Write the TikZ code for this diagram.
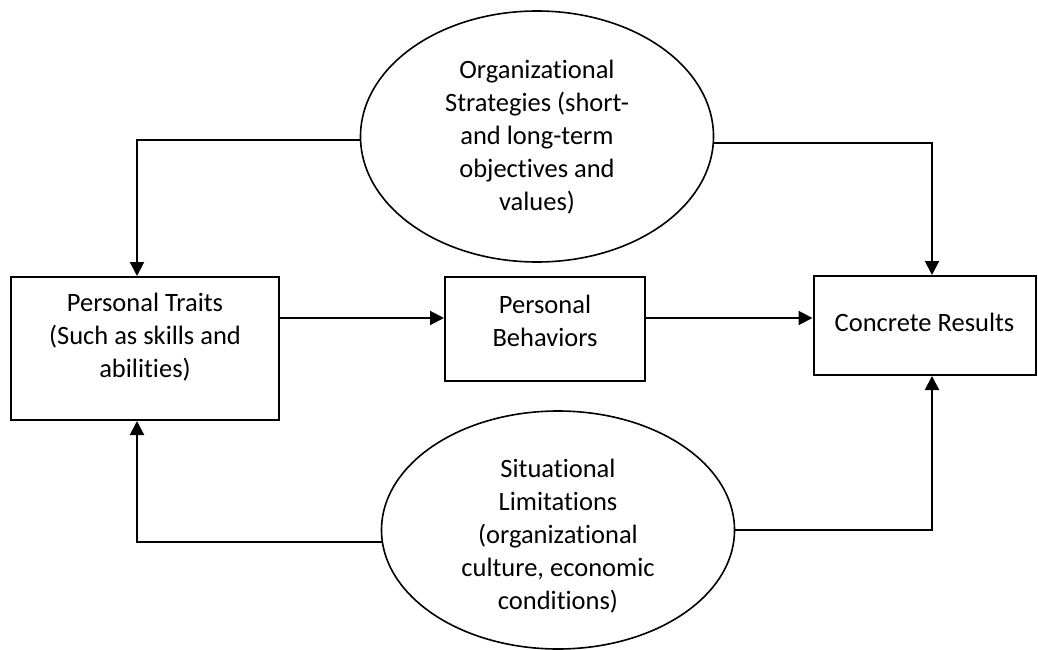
\documentclass[tikz,border=0pt]{standalone}
\usepackage{fontspec}
\setmainfont{Carlito}[Ligatures=NoCommon]
\usetikzlibrary{arrows.meta,shapes.geometric}

\tikzset{
  box/.style={draw, line width=2pt, inner sep=0pt},
  oval/.style={draw, ellipse, line width=1.6pt, inner sep=0pt},
  txt/.style={align=center, inner sep=0pt, font=\fontsize{26.5}{33}\selectfont},
  conn/.style={line width=2pt, -{Triangle[length=14pt,width=14pt]}}
}

\begin{document}
\begin{tikzpicture}[x=1pt, y=-1pt]
\useasboundingbox (0,0) rectangle (1038,650);

% boxes
\node (traits) [box, minimum width=268pt, minimum height=143pt] at (145,348.5) {};
\node (behav) [box, minimum width=200pt, minimum height=104pt] at (545,329) {};
\node (results) [box, minimum width=222pt, minimum height=99pt] at (924.5,325.5) {};

% ovals
\node (strat) [oval, minimum width=353pt, minimum height=251pt] at (537,136.5) {};
\node (sit) [oval, minimum width=353pt, minimum height=238pt] at (558,530) {};

% texts
\node (traitstxt) [txt] at (145,337.5) {Personal Traits\\(Such as skills and\\abilities)};
\node (behavtxt) [txt] at (545,321) {Personal\\Behaviors};
\node (resultstxt) [txt] at (924.5,322) {Concrete Results};
\node (strattxt) [txt] at (537,137.5) {Organizational\\Strategies (short-\\and long-term\\objectives and\\values)};
\node (sittxt) [txt] at (558,536) {Situational\\Limitations\\(organizational\\culture, economic\\conditions)};

% connectors
\coordinate (row) at (0,318);
\draw [conn] (strat.181.5) -| ([xshift=-8pt]traits.north);
\draw [conn] (strat.358.5) -| ([xshift=7.5pt]results.north);
\draw [conn] (traits.east |- row) -- (behav.west |- row);
\draw [conn] (behav.east |- row) -- (results.west |- row);
\draw [conn] (sit.184.5) -| ([xshift=-8pt]traits.south);
\draw [conn] (sit.east) -| ([xshift=7.5pt]results.south);
\end{tikzpicture}
\end{document}
